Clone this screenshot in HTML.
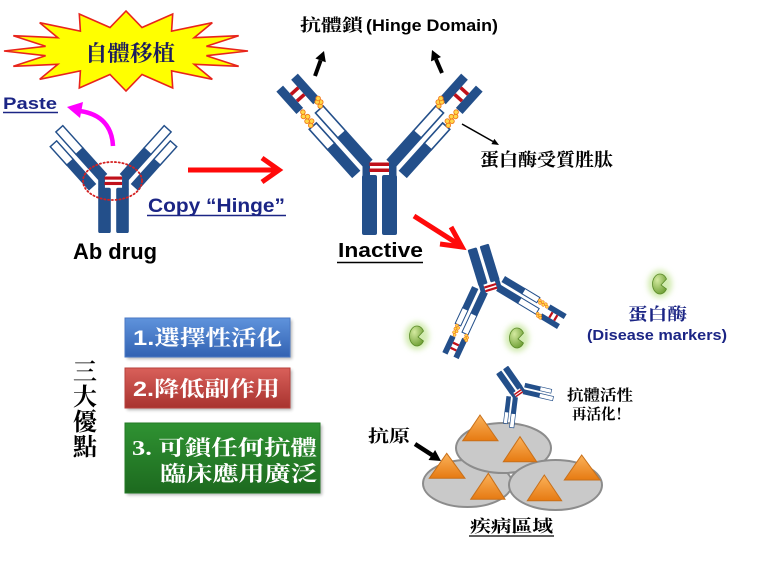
<!DOCTYPE html>
<html><head><meta charset="utf-8">
<style>
html,body{margin:0;padding:0;background:#fff;}
svg{display:block}
.cjk{font-family:"Liberation Serif","Noto Serif CJK SC",serif;font-weight:bold;}
.sans{font-family:"Liberation Sans","Noto Sans CJK SC",sans-serif;font-weight:bold;}
.box{font-family:"Liberation Sans","Noto Serif CJK SC",serif;font-weight:bold;fill:#fff;}
</style></head><body>
<svg width="769" height="564" viewBox="0 0 769 564" xmlns="http://www.w3.org/2000/svg">
<defs>
  <linearGradient id="gBlue" x1="0" y1="0" x2="0" y2="1"><stop offset="0" stop-color="#5f93dc"/><stop offset="1" stop-color="#3262b2"/></linearGradient>
  <linearGradient id="gRed" x1="0" y1="0" x2="0" y2="1"><stop offset="0" stop-color="#d9605a"/><stop offset="1" stop-color="#a8332f"/></linearGradient>
  <linearGradient id="gGreen" x1="0" y1="0" x2="0" y2="1"><stop offset="0" stop-color="#2f9232"/><stop offset="1" stop-color="#1d6a1f"/></linearGradient>
  <linearGradient id="gOr" x1="0" y1="0" x2="0" y2="1"><stop offset="0" stop-color="#fbb25a"/><stop offset="1" stop-color="#e67a12"/></linearGradient>
  <radialGradient id="gPac" cx="0.35" cy="0.3" r="0.8"><stop offset="0" stop-color="#d4eaa0"/><stop offset="1" stop-color="#6a9c30"/></radialGradient>
  <filter id="blur" x="-50%" y="-50%" width="200%" height="200%"><feGaussianBlur stdDeviation="3"/></filter>
  <filter id="sh" x="-10%" y="-10%" width="130%" height="140%"><feGaussianBlur stdDeviation="1.5"/></filter>

  <g id="armL" transform="translate(-12,-2) rotate(-42)">
    <rect x="-6" y="-39" width="12" height="40" fill="#234f8a"/>
    <rect x="-5.2" y="-72" width="10.4" height="33.5" fill="#fff" stroke="#234f8a" stroke-width="1.6"/>
    <rect x="-21.5" y="-37" width="11" height="38" fill="#234f8a"/>
    <rect x="-20.8" y="-64" width="9.6" height="27.5" fill="#fff" stroke="#234f8a" stroke-width="1.6"/>
  </g>
  <g id="tipsL" transform="translate(-12,-2) rotate(-42)">
    <rect x="-1" y="-113" width="9" height="33" fill="#234f8a"/>
    <rect x="-20" y="-114" width="9" height="30" fill="#234f8a"/>
    <rect x="-11" y="-104" width="10" height="3.6" fill="#c0101a"/>
    <rect x="-11" y="-95" width="10" height="3.6" fill="#c0101a"/>
    <g fill="#ffd84a" stroke="#f07818" stroke-width="0.9">
      <circle cx="3" cy="-74" r="2.3"/><circle cx="6" cy="-76.5" r="2.3"/><circle cx="3.5" cy="-79" r="2.3"/><circle cx="6.5" cy="-81" r="2.3"/>
      <circle cx="-17" cy="-66" r="2.3"/><circle cx="-13.5" cy="-68.5" r="2.3"/><circle cx="-17" cy="-71.5" r="2.3"/><circle cx="-13.5" cy="-74.5" r="2.3"/><circle cx="-16.5" cy="-77.5" r="2.3"/><circle cx="-14" cy="-81" r="2.3"/>
    </g>
  </g>
  <g id="core">
    <rect x="-17" y="-7" width="7.5" height="19" fill="#234f8a"/>
    <rect x="9.5" y="-7" width="7.5" height="19" fill="#234f8a"/>
    <use href="#armL"/>
    <use href="#armL" transform="scale(-1,1)"/>
    <rect x="-10" y="-2.5" width="19.5" height="3.5" fill="#c0101a"/>
    <rect x="-10" y="3.5" width="19.5" height="3.5" fill="#c0101a"/>
  </g>
  <g id="stems" fill="#234f8a">
    <rect x="-17.5" y="10" width="15" height="60" rx="2"/>
    <rect x="2.5" y="10" width="15" height="60" rx="2"/>
  </g>
  <g id="abFull">
    <use href="#core"/><use href="#stems"/>
    <use href="#tipsL"/><use href="#tipsL" transform="scale(-1,1)"/>
  </g>
  <g id="pac">
    <ellipse cx="0" cy="0" rx="12" ry="14" fill="#d2ebb0" filter="url(#blur)"/>
    <path d="M6.5,-5 A7.5,10 0 1,0 6.5,5 L1,1 Z" fill="url(#gPac)" stroke="#5a8a28" stroke-width="0.8"/>
  </g>
</defs>

<rect width="769" height="564" fill="#fff"/>

<!-- star -->
<polygon points="248,51 206.4,55.7 238.7,66.3 194.1,64.3 212.3,79.3 171.6,70.9 172.7,88 142,74.5 126,91 110,74.5 79.3,88 80.4,70.9 39.7,79.3 57.9,64.3 13.3,66.3 45.6,55.7 4,51 45.6,46.3 13.3,35.7 57.9,37.7 39.7,22.7 80.4,31.1 79.3,14 110,27.5 126,11 142,27.5 172.7,14 171.6,31.1 212.3,22.7 194.1,37.7 238.7,35.7 206.4,46.3" fill="#ffff00" stroke="#e8241c" stroke-width="1.6" stroke-linejoin="miter"/>
<text class="cjk" x="85" y="61" font-size="22" fill="#1c1c5e" textLength="90" lengthAdjust="spacingAndGlyphs">自體移植</text>

<!-- Paste -->
<text class="sans" x="3" y="109" font-size="17" fill="#1b2585" textLength="54" lengthAdjust="spacingAndGlyphs">Paste</text>
<line x1="3" y1="112.5" x2="58" y2="112.5" stroke="#1b2585" stroke-width="1.5"/>
<path d="M113,146 C112,126 101,114 80,111" fill="none" stroke="#ff00ff" stroke-width="4.5"/>
<polygon points="67,107 83,102 80,118" fill="#ff00ff"/>

<!-- small Ab drug -->
<g transform="translate(113.5,178.75) scale(0.9)">
  <use href="#core"/>
  <g fill="#234f8a">
    <rect x="-17" y="10" width="14" height="50.3" rx="2"/>
    <rect x="3" y="10" width="14" height="50.3" rx="2"/>
  </g>
</g>
<ellipse cx="112.5" cy="181" rx="29.5" ry="19" fill="none" stroke="#d42020" stroke-width="1.8" stroke-dasharray="1.2 2.6" stroke-linecap="round"/>
<text class="sans" x="73" y="259" font-size="22" fill="#000" textLength="84" lengthAdjust="spacingAndGlyphs">Ab drug</text>

<!-- Copy Hinge -->
<text class="sans" x="148" y="212" font-size="19" fill="#1b2585" textLength="137" lengthAdjust="spacingAndGlyphs">Copy “Hinge”</text>
<line x1="147" y1="215.5" x2="286" y2="215.5" stroke="#1b2585" stroke-width="1.5"/>

<!-- red horizontal arrow -->
<line x1="188" y1="170" x2="276" y2="170" stroke="#ff0a0a" stroke-width="5"/>
<polyline points="262,158 279,170 262,182" fill="none" stroke="#ff0a0a" stroke-width="5"/>

<!-- big inactive antibody -->
<use href="#abFull" transform="translate(379.5,165)"/>
<text class="cjk" x="300" y="31" font-size="17" fill="#000" textLength="63" lengthAdjust="spacingAndGlyphs">抗體鎖</text>
<text class="sans" x="366" y="31" font-size="17" fill="#000" textLength="132" lengthAdjust="spacingAndGlyphs">(Hinge Domain)</text>
<line x1="315" y1="76" x2="320.6" y2="60.4" stroke="#000" stroke-width="4"/>
<polygon points="324,51 325.8,62.3 315.4,58.5" fill="#000"/>
<line x1="442" y1="73" x2="436" y2="59.2" stroke="#000" stroke-width="4"/>
<polygon points="432,50 441,57 431,61.4" fill="#000"/>
<line x1="462" y1="124" x2="493" y2="141.5" stroke="#000" stroke-width="1.5"/>
<polygon points="499,145 491.4,144.1 494.4,138.9" fill="#000"/>
<text class="cjk" x="480" y="166" font-size="18" fill="#000" textLength="133" lengthAdjust="spacingAndGlyphs">蛋白酶受質胜肽</text>
<text class="sans" x="338" y="257" font-size="20" fill="#000" textLength="85" lengthAdjust="spacingAndGlyphs">Inactive</text>
<line x1="337" y1="262.5" x2="423" y2="262.5" stroke="#000" stroke-width="1.5"/>

<!-- red diagonal arrow -->
<line x1="414" y1="216" x2="458" y2="244" stroke="#ff0a0a" stroke-width="5"/>
<polyline points="440,244 462,247 451,227" fill="none" stroke="#ff0a0a" stroke-width="5"/>

<!-- activated antibody -->
<use href="#abFull" transform="translate(491,289) rotate(163) scale(0.63)"/>

<!-- proteases -->
<use href="#pac" transform="translate(417,336)"/>
<use href="#pac" transform="translate(517,338)"/>
<use href="#pac" transform="translate(660,284)"/>
<text class="cjk" x="628" y="320" font-size="17" fill="#1b2585" textLength="59" lengthAdjust="spacingAndGlyphs">蛋白酶</text>
<text class="sans" x="587" y="340" font-size="15" fill="#1b2585" textLength="140" lengthAdjust="spacingAndGlyphs">(Disease markers)</text>

<!-- disease area -->
<ellipse cx="467.5" cy="483.5" rx="44.5" ry="23.5" fill="#c9c9c9" stroke="#8c8c8c" stroke-width="2"/>
<ellipse cx="503.5" cy="448" rx="47.5" ry="25" fill="#c9c9c9" stroke="#8c8c8c" stroke-width="2"/>
<ellipse cx="555.5" cy="485" rx="46.5" ry="25" fill="#c9c9c9" stroke="#8c8c8c" stroke-width="2"/>
<g fill="url(#gOr)" stroke="#c8701a" stroke-width="1">
  <polygon points="480,415 498,440.7 462.7,440.7"/>
  <polygon points="520,436.7 536.7,461.7 503.3,461.7"/>
  <polygon points="446.7,453.3 465,478.3 429.3,478.3"/>
  <polygon points="488.3,473.3 505,499.3 470.7,499.3"/>
  <polygon points="544.3,475 561.7,500.7 527.3,500.7"/>
  <polygon points="581.7,455 600,480 564.3,480"/>
</g>
<!-- binding antibody -->
<g transform="translate(519,394) rotate(145) scale(0.42)">
  <use href="#core"/><use href="#stems"/>
</g>
<text class="cjk" x="567" y="400" font-size="15" fill="#000" textLength="66" lengthAdjust="spacingAndGlyphs">抗體活性</text>
<text class="cjk" x="572" y="419" font-size="15" fill="#000" textLength="58" lengthAdjust="spacingAndGlyphs">再活化！</text>
<text class="cjk" x="368" y="442" font-size="17" fill="#000" textLength="42" lengthAdjust="spacingAndGlyphs">抗原</text>
<line x1="415" y1="444" x2="432" y2="455" stroke="#000" stroke-width="4.5"/>
<polygon points="441,461 428.5,460 435.1,450" fill="#000"/>
<text class="cjk" x="470" y="532" font-size="17" fill="#000" textLength="83" lengthAdjust="spacingAndGlyphs">疾病區域</text>
<line x1="469" y1="536" x2="554" y2="536" stroke="#000" stroke-width="1.3"/>

<!-- boxes -->
<rect x="127" y="320" width="165" height="39" fill="#000" opacity="0.3" filter="url(#sh)"/>
<rect x="125" y="318" width="165" height="39" fill="url(#gBlue)" stroke="#4a78c4" stroke-width="1"/>
<text class="box" x="133" y="345" font-size="21" textLength="149" lengthAdjust="spacingAndGlyphs">1.選擇性活化</text>
<rect x="127" y="370" width="165" height="40" fill="#000" opacity="0.3" filter="url(#sh)"/>
<rect x="125" y="368" width="165" height="40" fill="url(#gRed)" stroke="#b8403c" stroke-width="1"/>
<text class="box" x="133" y="396" font-size="21" textLength="147" lengthAdjust="spacingAndGlyphs">2.降低副作用</text>
<rect x="127" y="425" width="195" height="70" fill="#000" opacity="0.3" filter="url(#sh)"/>
<rect x="125" y="423" width="195" height="70" fill="url(#gGreen)" stroke="#237a25" stroke-width="1"/>
<text class="box" x="132" y="455" font-size="21" textLength="185" lengthAdjust="spacingAndGlyphs" style="font-family:'Liberation Serif','Noto Serif CJK SC',serif">3. 可鎖任何抗體</text>
<text class="box" x="160" y="481" font-size="21" textLength="157" lengthAdjust="spacingAndGlyphs" style="font-family:'Liberation Serif','Noto Serif CJK SC',serif">臨床應用廣泛</text>

<!-- 三大優點 -->
<g class="cjk" font-size="24" fill="#000" text-anchor="middle">
  <text x="85" y="380">三</text>
  <text x="85" y="405">大</text>
  <text x="85" y="430">優</text>
  <text x="85" y="455">點</text>
</g>
</svg>
</body></html>
